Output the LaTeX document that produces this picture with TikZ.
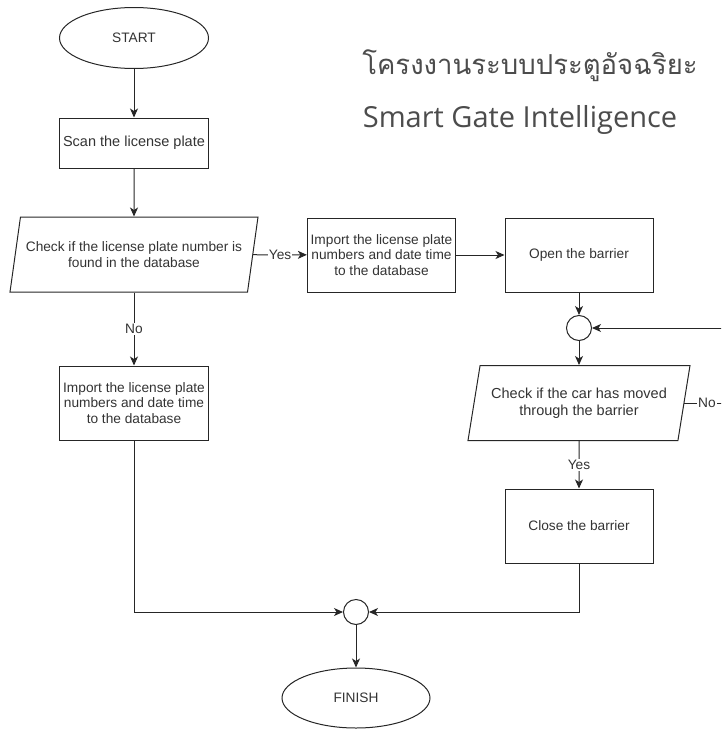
\documentclass[tikz,border=0pt]{standalone}
\usepackage{fontspec}
\setmainfont{Liberation Sans}
\newfontfamily\thaifont[Script=Thai]{Loma}
\newfontfamily\titlefont{Open Sans}
\usetikzlibrary{shapes.geometric,arrows.meta}
\begin{document}
\begin{tikzpicture}[x=1pt, y=-1pt, line width=1pt, draw=black!85,
  every node/.style={font=\fontsize{13.7}{15.5}\selectfont, text=black!80},
  box/.style={draw=black!85, minimum width=148pt, minimum height=74pt, align=center},
  io/.style={draw=black!85, trapezium, trapezium left angle=72, trapezium right angle=108,
    trapezium stretches body, minimum height=75pt, align=center},
  term/.style={draw=black!85, ellipse, minimum width=149pt, minimum height=61pt},
  merge/.style={draw=black!85, circle, minimum size=25pt, inner sep=0pt},
  lbl/.style={fill=white, inner sep=1pt},
  arr/.style={-{Stealth[length=9pt,width=8pt,inset=2.5pt]}}]
  \clip (0,0) rectangle (721,731);
  \node[text=black!70] (thai) at (530,66) {\fontsize{27.5}{30}\thaifont โครงงานระบบประตูอัจฉริยะ};
  \node[text=black!70] (eng) at (520,120) {\fontsize{29}{32}\titlefont Smart Gate Intelligence};
  \node[term] (start) at (134,38) {START};
  \node[box, minimum width=149pt, minimum height=50pt, font=\fontsize{14.5}{16}\selectfont] (scan) at (134,143) {Scan the license plate};
  \node[io, minimum width=248pt] (chk) at (134,254.5) {Check if the license plate number is\\found in the database};
  \node[box] (imp) at (381.5,255) {Import the license plate\\numbers and date time\\to the database};
  \node[box] (open) at (579,255) {Open the barrier};
  \node[merge] (j) at (579,328) {};
  \node[io, minimum width=222pt, font=\fontsize{14.5}{17}\selectfont] (car) at (579,403) {Check if the car has moved\\through the barrier};
  \node[box] (close) at (579,526) {Close the barrier};
  \node[box] (impno) at (134,403) {Import the license plate\\numbers and date time\\to the database};
  \node[merge] (k) at (356,612) {};
  \node[term, minimum width=148pt, minimum height=60pt] (finish) at (356,698) {FINISH};
  \draw[arr] (start) -- (scan);
  \draw[arr] (scan) -- (chk);
  \draw[arr] (chk) -- node[lbl] {Yes} (imp);
  \draw[arr] (chk) -- node[lbl] {No} (impno);
  \draw[arr] (imp) -- (open);
  \draw[arr] (open) -- (j);
  \draw[arr] (j) -- (car);
  \draw[arr] (car) -- node[lbl] {Yes} (close);
  \draw[arr] (car.east) -- node[lbl] {No} ++(45,0) |- (j.east);
  \draw[arr] (impno.south) |- (k.west);
  \draw[arr] (close.south) |- (k.east);
  \draw[arr] (k) -- (finish);
\end{tikzpicture}
\end{document}
